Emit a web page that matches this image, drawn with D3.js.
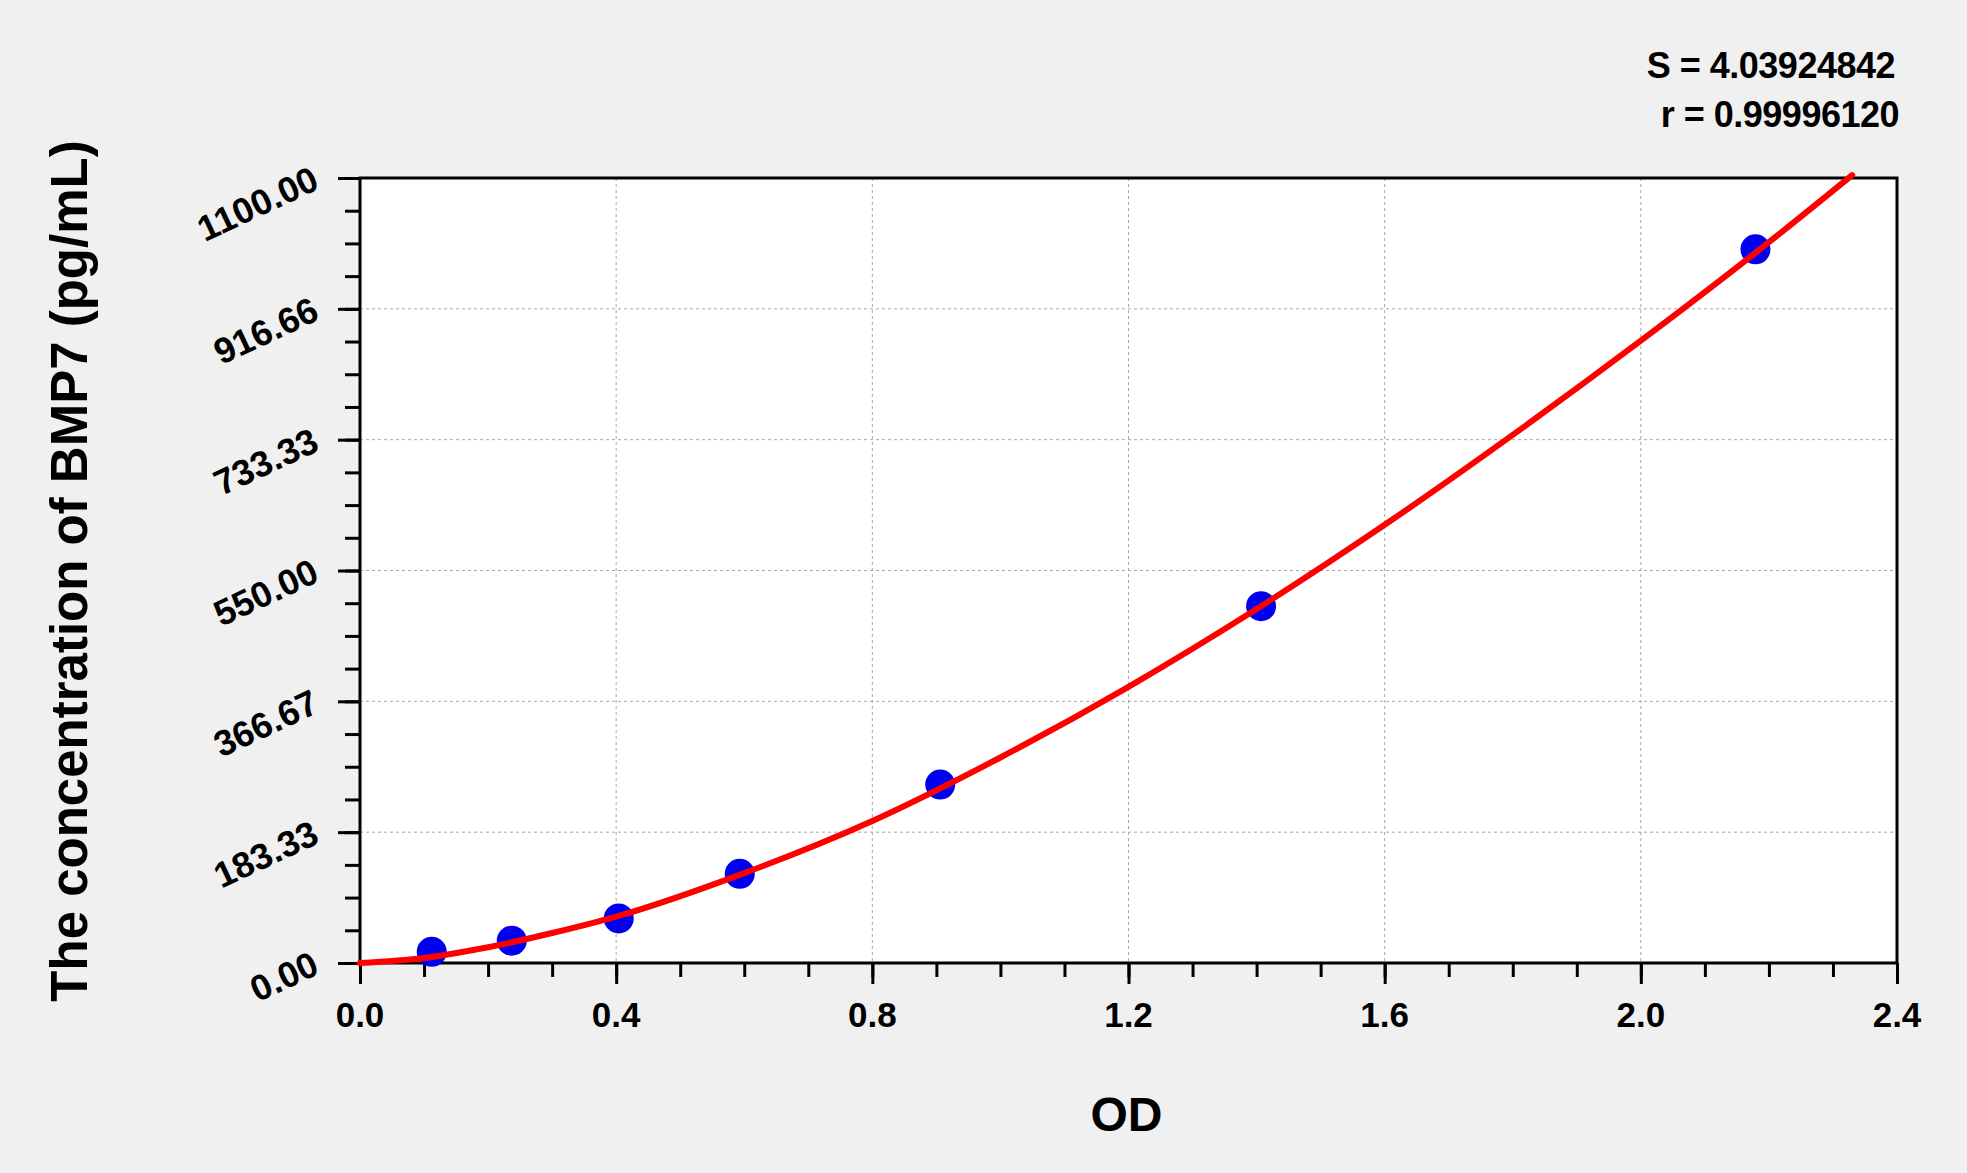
<!DOCTYPE html>
<html>
<head>
<meta charset="utf-8">
<script src="https://cdn.jsdelivr.net/npm/d3@7"></script>
<style>
  body { margin: 0; background: #f0f0f0; }
  svg { display: block; font-family: "Liberation Sans", Arial, sans-serif; font-weight: bold; }
</style>
</head>
<body>
<script>
// standard points (OD vs concentration)
var odValues = [0.112, 0.237, 0.404, 0.593, 0.906, 1.407, 2.179];
var concValues = [15.63, 31.25, 62.5, 125, 250, 500, 1000];

// fitted curve
var curveOD = [0, 0.1, 0.2, 0.3, 0.4, 0.6, 0.8, 1.0, 1.2, 1.4, 1.6, 1.8, 2.0, 2.2, 2.33];
var curveConc = [0, 7, 22, 42, 65, 126, 199, 288, 387, 496, 614, 740, 872, 1010, 1104];

var xTickValues = [0, 0.4, 0.8, 1.2, 1.6, 2.0, 2.4];
var xTickLabels = ["0.0", "0.4", "0.8", "1.2", "1.6", "2.0", "2.4"];
var yTickValues = [0, 183.33, 366.67, 550, 733.33, 916.66, 1100];
var yTickLabels = ["0.00", "183.33", "366.67", "550.00", "733.33", "916.66", "1100.00"];

var statLines = ["S = 4.03924842", "r = 0.99996120"];

window.onload = drawChart();

function drawChart(){
    var width = 1967,
        height = 1173;
    var left = 360, right = 1897, top = 178, bottom = 963;

    var svg = d3.select("body")
        .append("svg")
        .attr("width", width)
        .attr("height", height);

    var x = d3.scaleLinear().domain([0, 2.4]).range([left, right]);
    var y = d3.scaleLinear().domain([0, 1100]).range([bottom, top]);

    //white plot area
    svg.append("rect")
        .attr("x", left).attr("y", top)
        .attr("width", right - left).attr("height", bottom - top)
        .attr("fill", "#fff");

    //dashed grid
    svg.selectAll(".vgrid")
        .data(xTickValues.slice(1, -1))
        .enter().append("line")
        .attr("x1", function(d){ return x(d); })
        .attr("x2", function(d){ return x(d); })
        .attr("y1", top).attr("y2", bottom)
        .attr("stroke", "#a8a8a8").attr("stroke-width", 1)
        .attr("stroke-dasharray", "3,3");
    svg.selectAll(".hgrid")
        .data(yTickValues.slice(1, -1))
        .enter().append("line")
        .attr("y1", function(d){ return y(d); })
        .attr("y2", function(d){ return y(d); })
        .attr("x1", left).attr("x2", right)
        .attr("stroke", "#a8a8a8").attr("stroke-width", 1)
        .attr("stroke-dasharray", "3,3");

    //minor + major ticks via d3 axes
    var xMinor = d3.range(0, 24.5, 1).map(function(i){ return i / 10; });
    var yMinor = d3.range(0, 24.5, 1).map(function(i){ return i * 1100 / 24; });

    var gx = svg.append("g").attr("transform", "translate(0," + bottom + ")");
    gx.call(d3.axisBottom(x).tickValues(xMinor).tickSize(14).tickFormat(""));
    gx.append("g").call(d3.axisBottom(x).tickValues(xTickValues).tickSize(21).tickFormat(""));
    gx.selectAll(".domain").remove();
    gx.selectAll("line").attr("stroke", "#000").attr("stroke-width", 3);

    var gy = svg.append("g").attr("transform", "translate(" + left + ",0)");
    gy.call(d3.axisLeft(y).tickValues(yMinor).tickSize(15).tickFormat(""));
    gy.append("g").call(d3.axisLeft(y).tickValues(yTickValues).tickSize(22).tickFormat(""));
    gy.selectAll(".domain").remove();
    gy.selectAll("line").attr("stroke", "#000").attr("stroke-width", 3);

    //tick labels
    svg.selectAll(".xlab")
        .data(xTickValues)
        .enter().append("text")
        .attr("x", function(d){ return x(d); })
        .attr("y", bottom + 64)
        .attr("text-anchor", "middle")
        .attr("font-size", 35)
        .text(function(d, i){ return xTickLabels[i]; });

    svg.selectAll(".ylab")
        .data(yTickValues)
        .enter().append("text")
        .attr("text-anchor", "end")
        .attr("font-size", 36)
        .attr("transform", function(d){
            return "translate(" + (left - 39) + "," + (y(d) + 10) + ") rotate(-25)";
        })
        .text(function(d, i){ return yTickLabels[i]; });

    //plot border
    svg.append("rect")
        .attr("x", left).attr("y", top)
        .attr("width", right - left).attr("height", bottom - top)
        .attr("fill", "none").attr("stroke", "#000").attr("stroke-width", 3);

    //points
    svg.selectAll(".pt")
        .data(d3.zip(odValues, concValues))
        .enter().append("circle")
        .attr("cx", function(d){ return x(d[0]); })
        .attr("cy", function(d){ return y(d[1]); })
        .attr("r", 15)
        .attr("fill", "#0000f0");

    //fitted curve, drawn over the points
    var line = d3.line()
        .x(function(d){ return x(d[0]); })
        .y(function(d){ return y(d[1]); })
        .curve(d3.curveMonotoneX);
    svg.append("path")
        .datum(d3.zip(curveOD, curveConc))
        .attr("d", line)
        .attr("fill", "none")
        .attr("stroke", "#f00")
        .attr("stroke-width", 6)
        .attr("stroke-linecap", "round");

    //axis titles
    svg.append("text")
        .attr("x", (left + right) / 2 - 2)
        .attr("y", 1131)
        .attr("text-anchor", "middle")
        .attr("font-size", 48)
        .text("OD");

    svg.append("text")
        .attr("transform", "translate(87,571) rotate(-90)")
        .attr("text-anchor", "middle")
        .attr("font-size", 51)
        .text("The concentration of BMP7 (pg/mL)");

    //fit statistics
    svg.selectAll(".stat")
        .data(statLines)
        .enter().append("text")
        .attr("x", function(d, i){ return i == 0 ? 1895 : 1899; })
        .attr("y", function(d, i){ return 78 + i * 49; })
        .attr("text-anchor", "end")
        .attr("font-size", 36)
        .attr("letter-spacing", -0.5)
        .text(function(d){ return d; });
}
</script>
</body>
</html>
